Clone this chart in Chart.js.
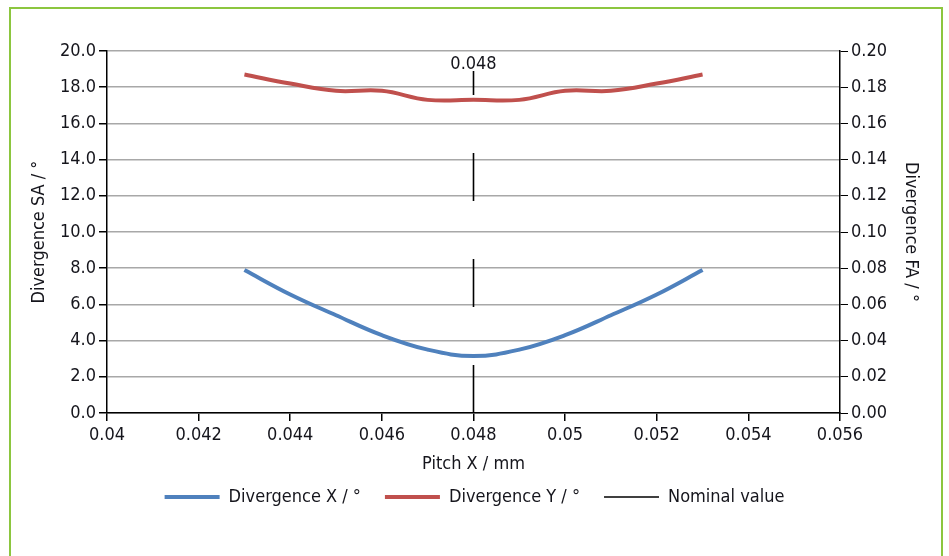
<!DOCTYPE html>
<html>
<head>
<meta charset="utf-8">
<script src="https://cdn.jsdelivr.net/npm/chart.js@4"></script>
<style>
  html, body { margin: 0; padding: 0; background: #fff; }
  #wrap { position: relative; width: 949px; height: 556px; }
  #frame { position: absolute; left: 9px; top: 7px; width: 934px; height: 560px; box-sizing: border-box;
           border: 2px solid #8cc63f; border-bottom: none; pointer-events: none; }
  canvas { position: absolute; left: 0; top: 0; }
</style>
</head>
<body>
<div id="wrap">
  <canvas id="c" width="949" height="556"></canvas>
  <div id="frame"></div>
</div>
<script>
// ---- data ----
const pitchX = [0.043, 0.044, 0.045, 0.046, 0.047, 0.048, 0.049, 0.050, 0.051, 0.052, 0.053];
const divergenceX = [7.9, 6.55, 5.4, 4.3, 3.5, 3.15, 3.5, 4.3, 5.4, 6.55, 7.9];
const divergenceY = [0.187, 0.182, 0.178, 0.178, 0.173, 0.173, 0.173, 0.178, 0.178, 0.182, 0.187];
const nominalX = [0.048, 0.048];
const nominalY = [0, 18.9];
const nominalLabel = "0.048";
const seriesNames = ["Divergence X / °", "Divergence Y / °", "Nominal value"];
const xTicks = [0.04, 0.042, 0.044, 0.046, 0.048, 0.05, 0.052, 0.054, 0.056];
const leftTicks = [0, 2, 4, 6, 8, 10, 12, 14, 16, 18, 20];
const rightTicks = [0, 0.02, 0.04, 0.06, 0.08, 0.10, 0.12, 0.14, 0.16, 0.18, 0.20];

const FONT = "'DejaVu Sans Condensed', 'DejaVu Sans', sans-serif";
const TXT = "#15151c";
const FS = 18;

const pts = (xs, ys) => xs.map((x, i) => ({x: x, y: ys[i]}));

const nominalLabelPlugin = {
  id: 'nominalLabel',
  afterDatasetsDraw(chart) {
    const meta = chart.getDatasetMeta(2);
    const top = meta.data[meta.data.length - 1];
    const ctx = chart.ctx;
    ctx.save();
    ctx.font = FS + "px " + FONT;
    ctx.fillStyle = TXT;
    ctx.textAlign = 'center';
    ctx.textBaseline = 'alphabetic';
    ctx.fillText(nominalLabel, top.x, top.y - 2);
    ctx.restore();
  }
};

new Chart(document.getElementById('c'), {
  type: 'scatter',
  data: {
    datasets: [
      { label: seriesNames[0], data: pts(pitchX, divergenceX), yAxisID: 'y', showLine: true,
        borderColor: '#4f81bd', backgroundColor: '#4f81bd', borderWidth: 4, pointRadius: 0, tension: 0.4 },
      { label: seriesNames[1], data: pts(pitchX, divergenceY), yAxisID: 'y2', showLine: true,
        borderColor: '#c0504d', backgroundColor: '#c0504d', borderWidth: 4, pointRadius: 0, tension: 0.4 },
      { label: seriesNames[2], data: pts(nominalX, nominalY), yAxisID: 'y', showLine: true,
        borderColor: '#000', backgroundColor: '#000', borderWidth: 1.6, pointRadius: 0, borderDash: [48, 58] }
    ]
  },
  options: {
    responsive: false,
    animation: false,
    devicePixelRatio: 1,
    layout: { padding: { top: 51, left: 0, right: 0, bottom: 40 } },
    font: { family: FONT },
    color: TXT,
    plugins: {
      legend: {
        position: 'bottom',
        labels: {
          usePointStyle: true, pointStyle: 'line', pointStyleWidth: 55,
          font: { size: FS, family: FONT }, color: TXT, padding: 24, boxHeight: FS
        }
      },
      tooltip: { enabled: false }
    },
    scales: {
      x: {
        type: 'linear', min: 0.04, max: 0.056,
        afterBuildTicks: s => { s.ticks = xTicks.map(v => ({value: v})); },
        afterFit: s => { s.height = 51; },
        ticks: { font: { size: FS, family: FONT }, color: TXT, padding: 4, maxRotation: 0,
                 callback: v => String(Number(v.toFixed(3))) },
        grid: { drawOnChartArea: false, tickColor: '#000', tickLength: 8, lineWidth: 1.5 },
        border: { color: '#000', width: 1.5 },
        title: { display: true, text: 'Pitch X / mm', font: { size: FS, family: FONT }, color: TXT,
                 padding: { top: 0, bottom: -11 } }
      },
      y: {
        position: 'left', min: 0, max: 20,
        afterBuildTicks: s => { s.ticks = leftTicks.map(v => ({value: v})); },
        afterFit: s => { s.width = 107; },
        ticks: { font: { size: FS, family: FONT }, color: TXT, padding: 3, callback: v => v.toFixed(1) },
        grid: { color: '#a8a8a8', lineWidth: 1.5, tickColor: '#000', tickLength: 8 },
        border: { color: '#000', width: 1.5 },
        title: { display: true, text: 'Divergence SA / °', font: { size: FS, family: FONT }, color: TXT,
                 padding: { top: 29, bottom: 0 } }
      },
      y2: {
        position: 'right', min: 0, max: 0.2,
        afterBuildTicks: s => { s.ticks = rightTicks.map(v => ({value: v})); },
        afterFit: s => { s.width = 109; },
        ticks: { font: { size: FS, family: FONT }, color: TXT, padding: 3, callback: v => v.toFixed(2) },
        grid: { drawOnChartArea: false, tickColor: '#000', tickLength: 8 },
        border: { color: '#000', width: 1.5 },
        title: { display: true, text: 'Divergence FA / °', font: { size: FS, family: FONT }, color: TXT,
                 padding: { top: 28, bottom: 0 } }
      }
    }
  },
  plugins: [nominalLabelPlugin]
});
</script>
</body>
</html>
